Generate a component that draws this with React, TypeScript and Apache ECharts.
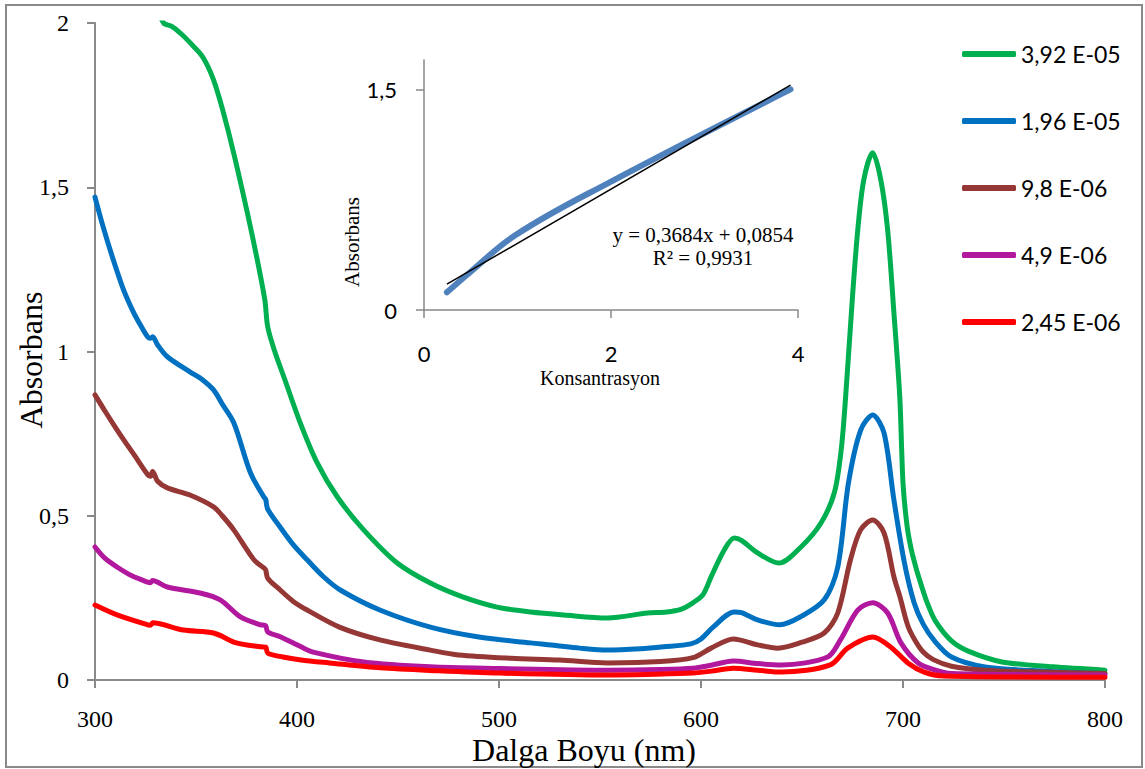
import React, { useEffect, useRef } from "react";
import * as echarts from "echarts";

// Absorption spectra, [wavelength nm, absorbance]
const spectrum392E5: [number, number][] = [
  [328, 2.08], [334, 2.0], [338, 1.99], [343, 1.965], [348.6, 1.93], [353.5, 1.895], [358.5, 1.83],
  [363, 1.74], [369, 1.595], [377.6, 1.36], [384, 1.16], [385.5, 1.075], [389, 1.0], [394, 0.914],
  [401.6, 0.783], [410, 0.661], [420, 0.557], [433, 0.457], [449.6, 0.356], [466, 0.295],
  [482, 0.253], [499, 0.222], [515.6, 0.207], [532, 0.198], [553.7, 0.189], [573.5, 0.204],
  [583, 0.207], [590, 0.215], [596, 0.235], [601, 0.26], [605, 0.314], [611.5, 0.396],
  [616.5, 0.432], [620, 0.425], [628, 0.387], [638.6, 0.356], [649.5, 0.405], [659.4, 0.478],
  [666, 0.57], [669.4, 0.7], [671.6, 0.862], [675, 1.167], [677.6, 1.37], [680.6, 1.523],
  [685, 1.605], [689, 1.523], [692.4, 1.37], [695.5, 1.118], [698.4, 0.862], [700, 0.6],
  [702, 0.47], [704, 0.4], [706.5, 0.34], [709, 0.29], [712, 0.235], [716, 0.18], [724, 0.119],
  [732.6, 0.087], [749, 0.055], [774, 0.04], [800, 0.03],
];
const spectrum196E5: [number, number][] = [
  [300, 1.47], [304, 1.38], [309, 1.28], [314, 1.19], [319, 1.12], [323, 1.075], [326, 1.045],
  [327.5, 1.04], [328.5, 1.045], [331, 1.02], [335.8, 0.984], [347, 0.938], [353, 0.915],
  [358.7, 0.883], [363, 0.84], [368.7, 0.783], [377, 0.63], [383.6, 0.557], [384.5, 0.55],
  [385.5, 0.52], [391.7, 0.465], [398, 0.413], [405, 0.366], [413, 0.315], [421.4, 0.274],
  [441, 0.213], [466, 0.161], [490.8, 0.13], [515.6, 0.113], [540, 0.097], [553.7, 0.091],
  [570, 0.095], [581.5, 0.101], [595, 0.11], [600, 0.125], [606, 0.161], [616.4, 0.207],
  [620, 0.205], [628, 0.183], [639, 0.168], [650, 0.195], [661, 0.244], [667.7, 0.344],
  [673, 0.6], [679, 0.76], [685, 0.807], [690.6, 0.752], [695.5, 0.548], [700.6, 0.36],
  [705.5, 0.235], [710, 0.17], [715.6, 0.119], [724, 0.07], [740.6, 0.04], [770, 0.027],
  [800, 0.02],
];
const spectrum98E6: [number, number][] = [
  [300, 0.868], [305, 0.818], [310, 0.77], [315, 0.724], [320, 0.68], [326, 0.626], [327.5, 0.62],
  [328.5, 0.635], [331, 0.605], [335.8, 0.585], [347, 0.563], [358.7, 0.527], [363, 0.5],
  [368.7, 0.457], [378.7, 0.366], [383.6, 0.341], [384.5, 0.335], [385.5, 0.31], [391.7, 0.274],
  [398, 0.24], [405, 0.213], [421, 0.161], [441, 0.122], [466, 0.091], [480, 0.076], [506, 0.066],
  [530, 0.061], [553.7, 0.052], [580, 0.056], [596, 0.068], [605, 0.097], [616, 0.125],
  [628, 0.107], [638, 0.097], [650, 0.115], [661, 0.143], [667.7, 0.204], [674, 0.366],
  [679, 0.457], [685, 0.487], [690.6, 0.448], [695.5, 0.314], [698.5, 0.253], [702.4, 0.165],
  [706, 0.12], [710, 0.085], [715, 0.062], [724, 0.042], [740, 0.03], [770, 0.024], [800, 0.02],
];
const spectrum49E6: [number, number][] = [
  [300, 0.405], [305, 0.37], [310.9, 0.344], [318, 0.318], [326, 0.298], [327.5, 0.296],
  [328.5, 0.303], [335.8, 0.283], [352, 0.265], [362, 0.244], [372, 0.192], [382, 0.168],
  [384.5, 0.165], [385.5, 0.146], [392, 0.131], [402, 0.101], [408, 0.085], [433, 0.055],
  [466, 0.04], [500, 0.035], [553.7, 0.03], [580, 0.032], [596, 0.036], [605, 0.045],
  [616, 0.058], [628, 0.05], [640, 0.046], [662.7, 0.07], [669, 0.122], [677.6, 0.213],
  [685, 0.235], [692.4, 0.204], [699, 0.113], [707.5, 0.052], [716, 0.03], [724, 0.02],
  [800, 0.015],
];
const spectrum245E6: [number, number][] = [
  [300, 0.228], [310.9, 0.198], [326, 0.168], [327.5, 0.167], [328.5, 0.174], [343.8, 0.152],
  [358.7, 0.143], [370, 0.113], [382, 0.101], [384.5, 0.1], [385.5, 0.082], [393, 0.07],
  [402, 0.061], [416, 0.052], [441, 0.037], [470, 0.028], [500, 0.021], [553.7, 0.015],
  [596, 0.021], [605, 0.027], [616, 0.036], [628, 0.03], [640, 0.024], [664, 0.046],
  [672.6, 0.097], [685, 0.131], [694, 0.1], [702.4, 0.052], [710.5, 0.024], [720, 0.012],
  [800, 0.008],
];

const seriesNames = ["3,92 E-05", "1,96 E-05", "9,8 E-06", "4,9 E-06", "2,45 E-06"];
const seriesColors = ["#00B050", "#0070C0", "#953735", "#B2189E", "#FF0000"];
const spectra = [spectrum392E5, spectrum196E5, spectrum98E6, spectrum49E6, spectrum245E6];

// Calibration inset
const concentration = [0.245, 0.49, 0.98, 1.96, 3.92];
const peakAbsorbance = [0.12, 0.255, 0.51, 0.86, 1.5];
const fitSlope = 0.3684;
const fitIntercept = 0.0854;
const fitR2 = "0,9931";

const comma = (v: number) => String(v).replace(".", ",");
const axisGray = "#898989";
const serif = "'Liberation Serif', 'Times New Roman', serif";
const sans = "Lato, 'Liberation Sans', sans-serif";

export default function App() {
  const ref = useRef<HTMLDivElement>(null);

  useEffect(() => {
    if (!ref.current) return;
    const chart = echarts.init(ref.current, undefined, { renderer: "svg" });

    const xFirst = concentration[0];
    const xLast = concentration[concentration.length - 1];
    const trend = [
      [xFirst, fitSlope * xFirst + fitIntercept],
      [xLast, fitSlope * xLast + fitIntercept],
    ];

    const titleText = (text: string, x: number, y: number, size: number, rotated = false) => ({
      type: "text",
      x,
      y,
      rotation: rotated ? Math.PI / 2 : 0,
      style: {
        text,
        font: `${size}px ${serif}`,
        fill: "#000",
        align: "center",
        verticalAlign: "middle",
      },
    });

    chart.setOption({
      animation: false,
      backgroundColor: "#ffffff",
      grid: [
        { left: 95, top: 23, width: 1010, height: 657, outerBoundsMode: "none" },
        { left: 424, top: 60, width: 374, height: 250, outerBoundsMode: "none" },
      ],
      xAxis: [
        {
          gridIndex: 0,
          type: "value",
          min: 300,
          max: 800,
          interval: 100,
          splitLine: { show: false },
          axisLine: { lineStyle: { color: axisGray, width: 2 } },
          axisTick: { show: true, length: 8, lineStyle: { color: axisGray, width: 2 } },
          axisLabel: { margin: 27, fontFamily: serif, fontSize: 24, color: "#000" },
        },
        {
          gridIndex: 1,
          type: "value",
          min: 0,
          max: 4,
          interval: 2,
          splitLine: { show: false },
          axisLine: { lineStyle: { color: axisGray, width: 1.5 } },
          axisTick: { show: true, length: 8, lineStyle: { color: axisGray, width: 1.5 } },
          axisLabel: { margin: 32, fontFamily: sans, fontSize: 22, color: "#000" },
        },
      ],
      yAxis: [
        {
          gridIndex: 0,
          type: "value",
          min: 0,
          max: 2,
          interval: 0.5,
          splitLine: { show: false },
          axisLine: { show: true, lineStyle: { color: axisGray, width: 2 } },
          axisTick: { show: true, length: 8, lineStyle: { color: axisGray, width: 2 } },
          axisLabel: {
            margin: 26,
            fontFamily: serif,
            fontSize: 24,
            color: "#000",
            formatter: comma,
          },
        },
        {
          gridIndex: 1,
          type: "value",
          min: 0,
          max: 1.7,
          splitLine: { show: false },
          axisLine: { show: true, lineStyle: { color: axisGray, width: 1.5 } },
          axisTick: {
            show: true,
            length: 8,
            customValues: [0, 1.5],
            lineStyle: { color: axisGray, width: 1.5 },
          },
          axisLabel: {
            margin: 27,
            fontFamily: sans,
            fontSize: 22,
            color: "#000",
            customValues: [0, 1.5],
            formatter: comma,
          },
        },
      ],
      legend: {
        orient: "vertical",
        left: 957,
        top: 34,
        itemWidth: 54,
        itemHeight: 6,
        itemGap: 37,
        icon: "roundRect",
        data: seriesNames,
        textStyle: { fontFamily: sans, fontSize: 23, color: "#000", lineHeight: 30 },
      },
      series: [
        ...spectra.map((d, i) => ({
          type: "line",
          name: seriesNames[i],
          xAxisIndex: 0,
          yAxisIndex: 0,
          data: d,
          showSymbol: false,
          symbol: "none",
          smooth: 0.3,
          clip: true,
          color: seriesColors[i],
          lineStyle: { color: seriesColors[i], width: 5, cap: "round", join: "round" },
        })),
        {
          type: "line",
          name: "calibration",
          xAxisIndex: 1,
          yAxisIndex: 1,
          data: concentration.map((c, i) => [c, peakAbsorbance[i]]),
          showSymbol: false,
          symbol: "none",
          smooth: 0.4,
          lineStyle: { color: "#4F81BD", width: 6, cap: "round" },
        },
        {
          type: "line",
          name: "trend",
          xAxisIndex: 1,
          yAxisIndex: 1,
          data: trend,
          showSymbol: false,
          symbol: "none",
          lineStyle: { color: "#000000", width: 1.5 },
        },
      ],
      graphic: [
        {
          type: "rect",
          shape: { x: 6, y: 5, width: 1136, height: 762 },
          style: { fill: "none", stroke: axisGray, lineWidth: 2 },
          silent: true,
        },
        titleText("Absorbans", 31, 360, 32, true),
        titleText("Dalga Boyu (nm)", 584, 750, 32),
        titleText("Konsantrasyon", 600, 378, 20),
        titleText("Absorbans", 352, 242, 21, true),
        titleText(`y = ${comma(fitSlope)}x + ${comma(fitIntercept)}`, 703, 235, 21),
        titleText(`R² = ${fitR2}`, 703, 258, 21),
      ],
    });

    return () => chart.dispose();
  }, []);

  return (
    <div
      ref={ref}
      style={{ position: "fixed", left: 0, top: 0, width: 1145, height: 769, background: "#fff" }}
    />
  );
}
